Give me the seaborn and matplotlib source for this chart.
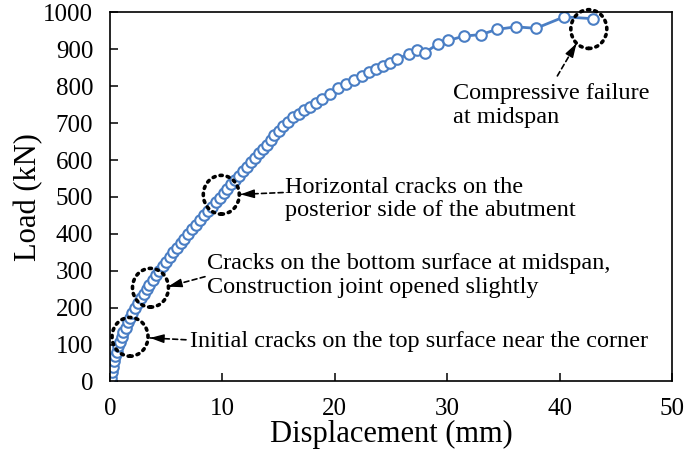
import matplotlib
matplotlib.use("Agg")
import matplotlib.pyplot as plt
import seaborn as sns
import pandas as pd
from matplotlib.patches import Ellipse

# ---- data ----
displacement = [0.00, 0.05, 0.15, 0.25, 0.35, 0.45, 0.60, 0.75, 0.90, 1.05,
                1.20, 1.40, 1.60, 1.80, 2.00, 2.25, 2.50, 2.75, 3.00, 3.25,
                3.50, 3.80, 4.10, 4.40, 4.70, 5.00, 5.30, 5.60, 5.95, 6.30,
                6.60, 6.95, 7.30, 7.65, 8.00, 8.35, 8.70, 9.05, 9.40, 9.75,
                10.10, 10.45, 10.80, 11.15, 11.50, 11.85, 12.20, 12.55, 12.90, 13.25,
                13.60, 13.95, 14.30, 14.60, 15.00, 15.40, 15.85, 16.30, 16.80, 17.30,
                17.80, 18.30, 18.90, 19.60, 20.30, 21.00, 21.70, 22.40, 23.00, 23.70,
                24.30, 24.90, 25.50, 26.60, 27.30, 28.00, 29.20, 30.10, 31.50, 33.00,
                34.40, 36.10, 37.90, 37.90, 40.40, 43.00]
load = [0, 10, 25, 40, 55, 68, 80, 95, 108, 120,
        133, 146, 160, 172, 185, 198, 212, 225, 238, 250,
        262, 275, 288, 300, 312, 325, 337, 350, 362, 375,
        387, 400, 412, 425, 437, 450, 462, 474, 486, 498,
        510, 522, 534, 546, 558, 570, 582, 594, 606, 618,
        630, 642, 654, 668, 680, 692, 704, 716, 726, 735,
        745, 754, 766, 779, 795, 806, 816, 827, 838, 847,
        856, 862, 873, 888, 898, 891, 915, 924, 936, 940,
        954, 961, 964, 950, 988, 983]

x_ticks = [0, 10, 20, 30, 40, 50]
y_ticks = [0, 100, 200, 300, 400, 500, 600, 700, 800, 900, 1000]

notes = ["Initial cracks on the top surface near the corner",
         "Cracks on the bottom surface at midspan,\nConstruction joint opened slightly",
         "Horizontal cracks on the\nposterior side of the abutment",
         "Compressive failure\nat midspan"]

df = pd.DataFrame({"Displacement": displacement, "Load": load})

sns.set_theme(style="ticks")
plt.rcParams["font.family"] = ["Liberation Serif", "DejaVu Serif"]

fig = plt.figure(figsize=(6.85, 4.61), dpi=100)
ax = fig.add_axes([0.1606, 0.1725, 0.981 - 0.1606, 0.973 - 0.1725])

blue = "#4A7EC4"
sns.lineplot(data=df, x="Displacement", y="Load", sort=False, ax=ax,
             color=blue, linewidth=2.0, marker="o", markersize=7.6,
             markerfacecolor="white", markeredgecolor=blue, markeredgewidth=1.5)

ax.set_xlim(0, 50)
ax.set_ylim(0, 1000)
ax.set_xticks(x_ticks)
ax.set_yticks(y_ticks)
ax.tick_params(direction="in", length=6, width=1.1, labelsize=18, color="black",
               labelcolor="black")
ax.tick_params(axis="y", pad=12)
ax.tick_params(axis="x", pad=12)
for s in ax.spines.values():
    s.set_visible(True)
    s.set_color("black")
    s.set_linewidth(1.2)
ax.set_xlabel("Displacement (mm)", fontsize=22, labelpad=0, color="black")
ax.set_ylabel("Load (kN)", fontsize=22, labelpad=0, color="black")

# dotted circles
circles = [(1.78, 121), (3.6, 254), (9.9, 506), (42.6, 955)]
for cx, cy in circles:
    ax.add_patch(Ellipse((cx, cy), 3.2, 105, fill=False, edgecolor="black",
                         linewidth=2.6, linestyle=(0, (0.6, 1.4)),
                         capstyle="round", zorder=5, clip_on=False))

# arrows: (tail, tip)
arrows = [((6.76, 113), (3.56, 118)),
          ((8.45, 284), (5.16, 257)),
          ((15.4, 512), (11.6, 507)),
          ((39.8, 828), (41.5, 916))]
for (tx, ty), (hx, hy) in arrows:
    ax.annotate("", xy=(hx, hy), xytext=(tx, ty),
                arrowprops=dict(arrowstyle="-", color="black", lw=1.2,
                                linestyle=(0, (3, 2)), shrinkA=0, shrinkB=0))
    fx = hx + (tx - hx) * 0.28
    fy = hy + (ty - hy) * 0.28
    ax.annotate("", xy=(hx, hy), xytext=(fx, fy),
                arrowprops=dict(arrowstyle="-|>,head_length=0.7,head_width=0.22",
                                color="black", lw=1.0, shrinkA=0, shrinkB=0))

text_pos = [(7.1, 107), (8.6, 287), (15.6, 494), (30.5, 748)]
for (px, py), t in zip(text_pos, notes):
    ax.text(px, py, t, fontsize=17.5, ha="left", va="center",
            linespacing=1.15, color="black")

fig.savefig("out.png", dpi=100)
